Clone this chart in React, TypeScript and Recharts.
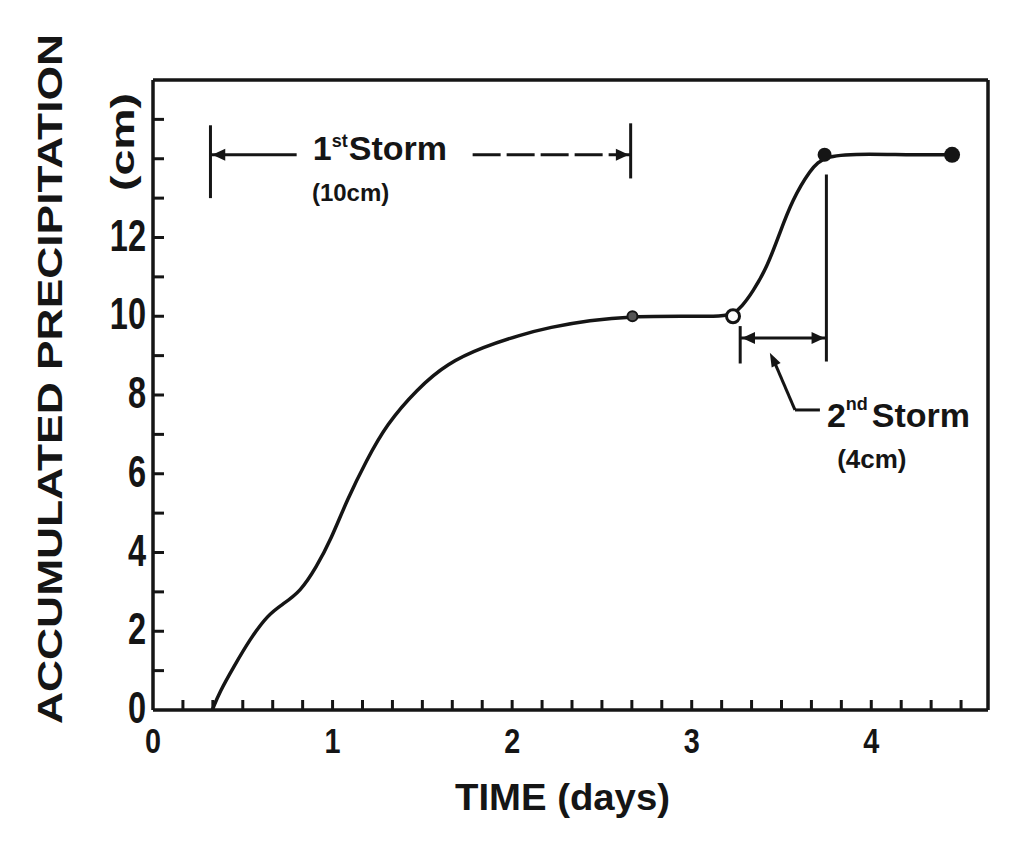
import React from 'react';
import {
  ComposedChart,
  Line,
  Scatter,
  XAxis,
  YAxis,
  ReferenceLine,
  ReferenceDot,
} from 'recharts';

// accumulated precipitation curve
const timeDays = [
  0.33, 0.37, 0.45, 0.54, 0.64, 0.72, 0.82, 0.91, 0.99, 1.08, 1.19, 1.3, 1.47, 1.64, 1.84,
  2.04, 2.21, 2.43, 2.67, 2.95, 3.18, 3.23, 3.28, 3.34, 3.42, 3.49, 3.56, 3.66, 3.74, 4.0,
  4.2, 4.45,
];
const precipCm = [
  0, 0.45, 1.1, 1.8, 2.42, 2.68, 3.0, 3.63, 4.32, 5.33, 6.35, 7.25, 8.15, 8.81, 9.22,
  9.52, 9.72, 9.9, 10.0, 10.0, 10.0, 10.05, 10.25, 10.62, 11.25, 12.11, 12.95, 13.72, 14.1,
  14.12, 14.1, 14.1,
];

// circles drawn on the curve
const markerDays = [2.67, 3.23, 3.74, 4.45];
const markerCm = [10.0, 10.0, 14.1, 14.1];
const markerKind = ['small', 'open', 'filled', 'big'];

// storm brackets (days)
const storm1Start = 0.32;
const storm1End = 2.66;
const storm2Start = 3.27;
const storm2End = 3.75;

// axes
const xMax = 4.65;
const yMax = 16;
const xTicks = Array.from({ length: 28 }, (_, k) => k / 6); // every 4 hours
const xLabels = [0, 1, 2, 3, 4];
const yTicks = [0, 1, 2, 3, 4, 5, 6, 7, 8, 9, 10, 11, 12, 13, 14, 15];
const yLabels = [0, 2, 4, 6, 8, 10, 12];

const INK = '#151515';
const FONT = '"Liberation Sans", Arial, sans-serif';

const curve = timeDays.map((t, i) => ({ t, p: precipCm[i] }));
const markers = markerDays.map((t, i) => ({ t, p: markerCm[i], kind: markerKind[i] }));

const XTick = (props: any) => {
  const { x, y, payload } = props;
  const v = payload.value;
  const isInt = Math.abs(v - Math.round(v)) < 1e-6;
  return (
    <g>
      {v > 0.01 && <line x1={x} x2={x} y1={y} y2={y - 10} stroke={INK} strokeWidth={3} />}
      {isInt && xLabels.includes(Math.round(v)) && (
        <text
          transform={`translate(${x}, ${y + 43}) scale(0.8, 1)`}
          textAnchor="middle"
          fontSize={36}
          fontWeight="bold"
          fontFamily={FONT}
          fill={INK}
        >
          {Math.round(v)}
        </text>
      )}
    </g>
  );
};

const YTick = (props: any) => {
  const { x, y, payload } = props;
  const v = payload.value;
  return (
    <g>
      {v > 0 && <line x1={x} x2={x + 11} y1={y} y2={y} stroke={INK} strokeWidth={3} />}
      {yLabels.includes(v) && (
        <text
          transform={`translate(${x - 7}, ${y + 13}) scale(0.74, 1)`}
          textAnchor="end"
          fontSize={44}
          fontWeight="bold"
          fontFamily={FONT}
          fill={INK}
        >
          {v}
        </text>
      )}
    </g>
  );
};

const MarkerShape = (props: any) => {
  const { cx, cy, payload } = props;
  if (payload.kind === 'open') {
    return <circle cx={cx} cy={cy} r={6.5} fill="#fff" stroke={INK} strokeWidth={3} />;
  }
  if (payload.kind === 'small') {
    return <circle cx={cx} cy={cy} r={5} fill="#555" stroke={INK} strokeWidth={2} />;
  }
  return <circle cx={cx} cy={cy} r={payload.kind === 'big' ? 8 : 7} fill={INK} />;
};

// filled arrow head, tip at (cx, cy), pointing along angle (deg)
const arrow = (angle: number, len = 13, half = 6) => (p: any) => (
  <polygon
    points={`0,0 ${-len},${-half} ${-len},${half}`}
    transform={`translate(${p.cx}, ${p.cy}) rotate(${angle})`}
    fill={INK}
  />
);

const note = (body: React.ReactNode, size = 34) => (p: any) => (
  <text x={p.cx} y={p.cy} fontSize={size} fontWeight="bold" fontFamily={FONT} fill={INK}>
    {body}
  </text>
);

const seg = (x1: number, y1: number, x2: number, y2: number, dash?: string, w = 3) => (
  <ReferenceLine
    segment={[{ x: x1, y: y1 }, { x: x2, y: y2 }]}
    stroke={INK}
    strokeWidth={w}
    strokeDasharray={dash}
  />
);

const App = () => {
  return (
    <div style={{ position: 'absolute', left: 0, top: 0, width: 1036, height: 856, background: '#fff' }}>
      <ComposedChart
        width={1036}
        height={856}
        data={curve}
        margin={{ top: 80, right: 48, bottom: 86, left: 93 }}
      >
        <XAxis
          type="number"
          dataKey="t"
          domain={[0, xMax]}
          ticks={xTicks}
          interval={0}
          tickSize={0}
          tickMargin={0}
          tickLine={false}
          tick={<XTick />}
          axisLine={{ stroke: INK, strokeWidth: 3.5 }}
          height={60}
          allowDataOverflow
        />
        <YAxis
          type="number"
          domain={[0, yMax]}
          ticks={yTicks}
          interval={0}
          tickSize={0}
          tickMargin={0}
          tickLine={false}
          tick={<YTick />}
          axisLine={{ stroke: INK, strokeWidth: 3.5 }}
          width={60}
          allowDataOverflow
        />
        {/* frame */}
        <ReferenceLine y={yMax} stroke={INK} strokeWidth={3.5} />
        <ReferenceLine x={xMax} stroke={INK} strokeWidth={3.5} />

        {/* 1st storm bracket */}
        {seg(storm1Start, 14.85, storm1Start, 13.0)}
        {seg(storm1Start, 14.1, 0.8, 14.1)}
        {seg(1.78, 14.1, storm1End, 14.1, '28 6')}
        {seg(storm1End, 14.9, storm1End, 13.5)}
        <ReferenceDot x={storm1Start + 0.01} y={14.1} shape={arrow(180)} />
        <ReferenceDot x={storm1End - 0.01} y={14.1} shape={arrow(0)} />
        <ReferenceDot
          x={0.89}
          y={13.97}
          shape={note(
            <>
              <tspan>1</tspan>
              <tspan dy={-13} fontSize={18}>st</tspan>
              <tspan dy={13} dx={1}>Storm</tspan>
            </>
          )}
        />
        <ReferenceDot x={0.885} y={12.93} shape={note('(10cm)', 24)} />

        {/* 2nd storm bracket */}
        {seg(storm2End, 13.6, storm2End, 8.85)}
        {seg(storm2Start, 9.75, storm2Start, 8.8)}
        {seg(storm2Start, 9.45, storm2End, 9.45)}
        <ReferenceDot x={storm2Start + 0.01} y={9.45} shape={arrow(180)} />
        <ReferenceDot x={storm2End - 0.01} y={9.45} shape={arrow(0)} />
        {seg(3.45, 8.95, 3.575, 7.62)}
        {seg(3.575, 7.62, 3.714, 7.62)}
        <ReferenceDot x={3.435} y={9.07} shape={arrow(-117, 14, 5)} />
        <ReferenceDot
          x={3.753}
          y={7.19}
          shape={note(
            <>
              <tspan>2</tspan>
              <tspan dy={-17} fontSize={18}>nd</tspan>
              <tspan dy={17} dx={4}>Storm</tspan>
            </>
          )}
        />
        <ReferenceDot x={3.81} y={6.15} shape={note('(4cm)', 26)} />

        <Line
          dataKey="p"
          type="basis"
          stroke={INK}
          strokeWidth={3.5}
          dot={false}
          activeDot={false}
          isAnimationActive={false}
        />
        <Scatter data={markers} dataKey="p" shape={MarkerShape} isAnimationActive={false} />
      </ComposedChart>

      {/* axis titles */}
      <svg
        width={1036}
        height={856}
        style={{ position: 'absolute', left: 0, top: 0, pointerEvents: 'none' }}
      >
        <text
          transform="translate(62, 379) rotate(-90)"
          textAnchor="middle"
          fontSize={35}
          fontWeight="bold"
          fontFamily={FONT}
          fill={INK}
          textLength={690}
          lengthAdjust="spacingAndGlyphs"
        >
          ACCUMULATED PRECIPITATION
        </text>
        <text
          transform="translate(134, 142) rotate(-90)"
          textAnchor="middle"
          fontSize={34}
          fontWeight="bold"
          fontFamily={FONT}
          fill={INK}
          textLength={98}
          lengthAdjust="spacingAndGlyphs"
        >
          (cm)
        </text>
        <text
          x={455}
          y={810}
          fontSize={36}
          fontWeight="bold"
          fontFamily={FONT}
          fill={INK}
          textLength={215}
          lengthAdjust="spacingAndGlyphs"
        >
          TIME (days)
        </text>
      </svg>
    </div>
  );
};

export default App;
